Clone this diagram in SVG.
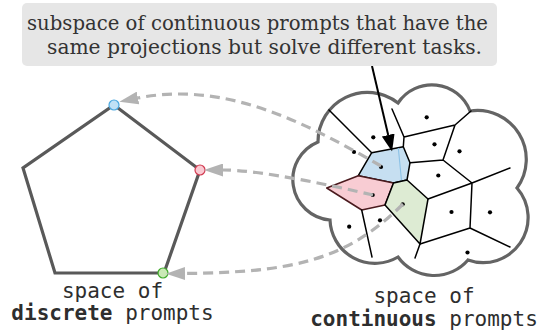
<svg xmlns="http://www.w3.org/2000/svg" width="541" height="333" viewBox="0 0 541 333">
<style>
.cap{font-family:"DejaVu Serif","Liberation Serif",serif;font-size:21px;fill:#333}
.lbl{font-family:"DejaVu Sans Mono","Liberation Mono",monospace;font-size:21px;fill:#2e2e2e}
.b{font-weight:bold}
.vor{stroke:#000;stroke-width:1.5;fill:none;stroke-linecap:round;stroke-linejoin:round}
.dot{fill:#000}
.dash{fill:none;stroke:#b3b3b3;stroke-width:3.2;stroke-dasharray:10 6}
</style>
<defs>
<marker id="ga" markerUnits="userSpaceOnUse" markerWidth="19" markerHeight="13" refX="0" refY="6.5" orient="auto">
<path d="M0,0 L19,6.5 L0,13 z" fill="#b3b3b3"/>
</marker>
<marker id="ba" markerUnits="userSpaceOnUse" markerWidth="17" markerHeight="13" refX="0" refY="6.5" orient="auto">
<path d="M0,0 L17,6.5 L0,13 z" fill="#000"/>
</marker>
</defs>

<g id="discrete-space">
<polygon points="114,105 200,170 164,273 55,273 23,168" fill="#fff" stroke="#595959" stroke-width="3.2" stroke-linejoin="miter"/>
<circle cx="114" cy="105" r="5" fill="#bfe1f6" stroke="#4aa8e0" stroke-width="1.2"/>
<circle cx="200" cy="170" r="5" fill="#f9c9d2" stroke="#d2394f" stroke-width="1.2"/>
<circle cx="163" cy="273" r="5" fill="#c9e9b5" stroke="#3faa2a" stroke-width="1.2"/>
</g>

<g id="continuous-space">
<path d="M330,220 A40.6,40.6 0 0 1 318,142 A49.4,49.4 0 0 1 398,103 A40.8,40.8 0 0 1 470,111 A48.9,48.9 0 0 1 517,188 A45,45 0 0 1 468,260 A44.6,44.6 0 0 1 398,257 A45,45 0 0 1 330,220 Z" fill="#fff" stroke="#646464" stroke-width="3.2"/>
<polygon points="371.7,152.7 403.3,146.7 410,162.7 407,180 393.5,183 358.3,175.7" fill="#c6dff1" stroke="#000" stroke-width="1.5" stroke-linejoin="round"/>
<line x1="398.3" y1="148" x2="401.5" y2="180.5" stroke="#8cc2e6" stroke-width="1.1"/>
<polygon points="358.3,175.7 393.5,183 385,205 361.7,210 326.7,188" fill="#f8ccd3" stroke="#4a1a1e" stroke-width="1.5" stroke-linejoin="round"/>
<polygon points="393.5,183 407,180 428,199 420,244 385,205" fill="#ddebd3" stroke="#000" stroke-width="1.5" stroke-linejoin="round"/>
<path class="vor" d="M329,110 L371.7,152.7 M392,109 L404,137 L455,125 L471,111 M455,125 L443,160 M404,137 L403.3,146.7 M410,162.7 L443,160 L472,183 L510,168 M472,183 L470,228 L510,247 M428,199 L472,183 M420,244 L470,228 M420,244 L415,258 M361.7,210 L372,257"/>
<g class="dot">
<circle cx="426.7" cy="117.3" r="2.1"/>
<circle cx="373.3" cy="137.3" r="2.1"/>
<circle cx="434.5" cy="144.3" r="2.1"/>
<circle cx="459.5" cy="151.3" r="2.1"/>
<circle cx="354" cy="152" r="2.1"/>
<circle cx="381" cy="167" r="2.1"/>
<circle cx="438.3" cy="175.5" r="2.1"/>
<circle cx="372.7" cy="195" r="2.1"/>
<circle cx="402.7" cy="204.3" r="2.1"/>
<circle cx="451.5" cy="212" r="2.1"/>
<circle cx="490" cy="212.3" r="2.1"/>
<circle cx="349.2" cy="226.7" r="2.1"/>
<circle cx="380" cy="220.3" r="2.1"/>
<circle cx="467.5" cy="252.5" r="2.1"/>
</g>
</g>

<g id="connectors">
<path class="dash" d="M381,166 C311,126 228,80 138,98" marker-end="url(#ga)"/>
<path class="dash" d="M373,195 C330,185 260,170 223,170" marker-end="url(#ga)"/>
<path class="dash" d="M403,204 C345,262 290,272 185,273.5" marker-end="url(#ga)"/>
<line x1="372" y1="66" x2="388.2" y2="135" stroke="#000" stroke-width="2" marker-end="url(#ba)"/>
</g>

<g id="caption">
<rect x="22" y="3" width="475" height="63" rx="5" fill="#e6e6e6"/>
<text class="cap" x="257.5" y="29.5" text-anchor="middle" textLength="461" lengthAdjust="spacingAndGlyphs">subspace of continuous prompts that have the</text>
<text class="cap" x="264.5" y="53.5" text-anchor="middle" textLength="435" lengthAdjust="spacingAndGlyphs">same projections but solve different tasks.</text>
</g>

<g id="discrete-label">
<text class="lbl" x="112.5" y="298" text-anchor="middle">space of</text>
<text class="lbl" x="112.5" y="320" text-anchor="middle"><tspan class="b">discrete</tspan> prompts</text>
</g>

<g id="continuous-label">
<text class="lbl" x="424" y="303" text-anchor="middle">space of</text>
<text class="lbl" x="424" y="325.5" text-anchor="middle"><tspan class="b">continuous</tspan> prompts</text>
</g>
</svg>
